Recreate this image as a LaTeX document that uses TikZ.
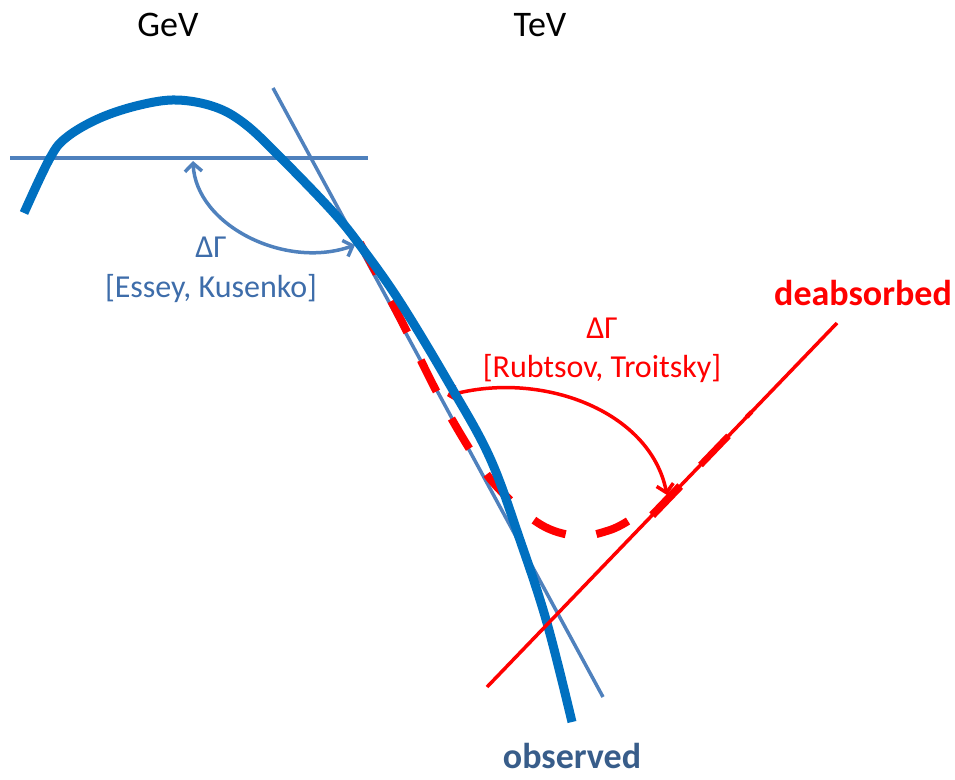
\documentclass[tikz,border=0pt]{standalone}
\usepackage{fontspec}
\setmainfont{Carlito}
\usetikzlibrary{arrows.meta,calc}
\definecolor{curveblue}{HTML}{0070C0}
\definecolor{thinblue}{HTML}{4F81BD}
\definecolor{labelblue}{HTML}{3E6DAA}
\definecolor{obsblue}{HTML}{385D8A}
\definecolor{absred}{HTML}{FF0000}
\tikzset{
  lbl/.style={inner sep=0pt, anchor=base, font=\fontsize{32}{39}\selectfont},
  axislbl/.style={inner sep=0pt, anchor=base, font=\fontsize{36}{43}\selectfont},
  headlbl/.style={inner sep=0pt, anchor=base, font=\fontsize{36}{43}\selectfont\bfseries},
  bothbarbs/.style={{Straight Barb[length=8pt,width=17pt]}-{Straight Barb[length=8pt,width=17pt]}},
  thinline/.style={thinblue, line width=3.5pt},
  redline/.style={absred, line width=3.5pt},
}
\begin{document}
\begin{tikzpicture}[x=1pt,y=-1pt]
\useasboundingbox (0,0) rectangle (955,779);

% reference lines
\coordinate (h0) at (10,158);
\coordinate (h1) at (368,158);
\coordinate (t0) at (273,88);
\coordinate (t1) at (603,697);
\coordinate (r0) at (487,687);
\coordinate (r1) at (837,323);

\draw[thinline, line width=4pt] (h0) -- (h1);
\draw[thinline] (t0) -- (t1);

% deabsorbed spectrum (dashed), joining the red power law
\draw[absred, line width=8pt, dash pattern=on 35pt off 31pt]
  plot[smooth, tension=0.6] coordinates {(360,243) (400,318) (440,398) (480,465) (510,500) (545,527) (580,536) (610,530) (628,521)};
\draw[absred, line width=8pt]   ($(r0)!0.472!(r1)$) -- ($(r0)!0.552!(r1)$);
\draw[absred, line width=6.5pt] ($(r0)!0.610!(r1)$) -- ($(r0)!0.690!(r1)$);
\draw[absred, line width=4.5pt] ($(r0)!0.742!(r1)$) -- ($(r0)!0.756!(r1)$);

% spectral index changes
\coordinate (ea) at (193,161);
\coordinate (eb) at (355,245);
\draw[thinline, bothbarbs] (ea) .. controls (196,225) and (285,270) .. (eb);
\coordinate (ra) at (447,396);
\coordinate (rb) at (667,495);
\draw[redline, bothbarbs] (ra) .. controls (540,370) and (650,410) .. (rb);

% observed spectrum
\draw[curveblue, line width=9pt]
  plot[smooth, tension=0.6] coordinates {(24,213) (50,158) (67,137) (100,118) (140,105) (177,100) (215,107) (245,124) (280,157) (333,212) (362,248) (400,302) (450,385) (490,458) (520,540) (547,623) (572,722)};

% intrinsic power law
\draw[redline] (r0) -- (r1);

% labels
\node[axislbl] (gev) at (168,36) {GeV};
\node[axislbl] (tev) at (540,36) {TeV};
\node[lbl, text=labelblue] (dgb) at (211,257) {ΔΓ};
\node[lbl, text=labelblue] (ek) at (211,297) {[Essey, Kusenko]};
\node[lbl, text=absred] (dgr) at (602,338) {ΔΓ};
\node[lbl, text=absred] (rt) at (602,377) {[Rubtsov, Troitsky]};
\node[headlbl, text=absred] (deabs) at (863,305) {deabsorbed};
\node[headlbl, text=obsblue] (obs) at (572,768) {observed};
\end{tikzpicture}
\end{document}
